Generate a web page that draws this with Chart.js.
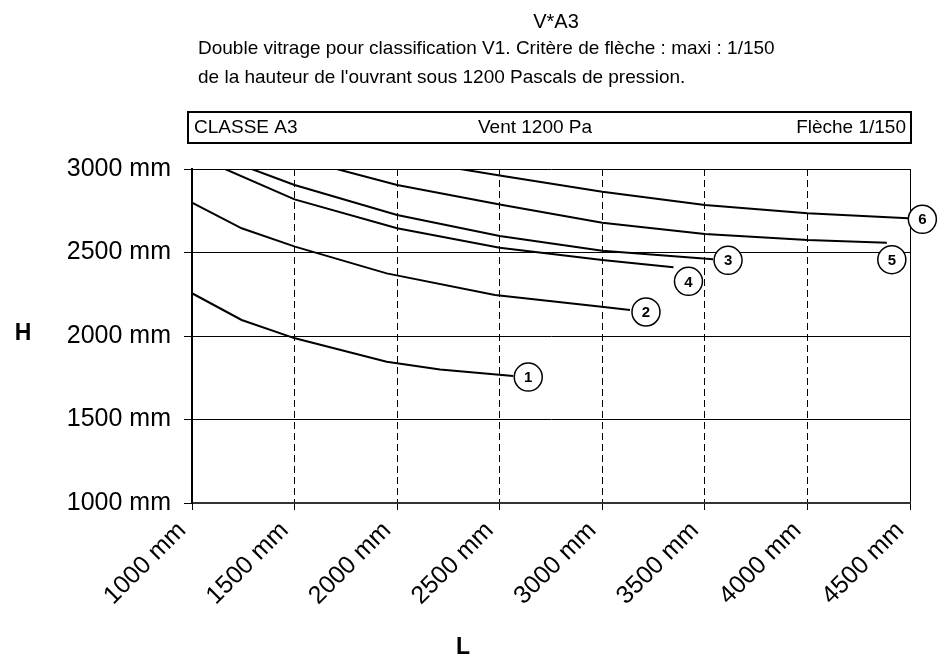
<!DOCTYPE html>
<html>
<head>
<meta charset="utf-8">
<script src="https://cdn.jsdelivr.net/npm/chart.js@4.4.0/dist/chart.umd.min.js"></script>
<style>
  body { margin: 0; background: #fff; }
  #wrap { width: 946px; height: 664px; position: relative; }
</style>
</head>
<body>
<div id="wrap"><canvas id="lineChart"></canvas></div>
<script>
// curves (L = width in mm, H = height in mm)
const L1 = [1000, 1242, 1502, 1949, 2209, 2566];
const H1 = [2256, 2096, 1986, 1846, 1800, 1760];
const L2 = [1000, 1242, 1502, 1949, 2477, 2997, 3135];
const H2 = [2798, 2645, 2535, 2375, 2245, 2175, 2156];
const L3 = [1291, 1500, 2000, 2500, 3000, 3540];
const H3 = [3000, 2904, 2725, 2599, 2511, 2459];
const L4 = [1161, 1500, 2000, 2500, 3000, 3347];
const H4 = [3000, 2818, 2645, 2528, 2455, 2411];
const L5 = [1705, 2000, 2500, 3000, 3500, 4000, 4387];
const H5 = [3000, 2904, 2788, 2678, 2611, 2575, 2559];
const L6 = [2307, 2500, 3000, 3500, 4000, 4492];
const H6 = [3000, 2961, 2864, 2784, 2735, 2705];
const curveNames = ['1', '2', '3', '4', '5', '6'];

const xTicks = [1000, 1500, 2000, 2500, 3000, 3500, 4000, 4500];
const yTicks = [1000, 1500, 2000, 2500, 3000];

const title = 'V*A3';
const subtitle = ["Double vitrage pour classification V1. Critère de flèche : maxi : 1/150",
                  "de la hauteur de l'ouvrant sous 1200 Pascals de pression."];
const boxTexts = ['CLASSE A3', 'Vent 1200 Pa', 'Flèche 1/150'];

// where each circled number sits relative to the end of its curve (px)
const labelOffsets = [[15, 1], [16, 2], [15, 1], [15, 14], [5, 17], [14, 1]];

const FONT = "'Liberation Sans', Arial, sans-serif";

const allL = [L1, L2, L3, L4, L5, L6];
const allH = [H1, H2, H3, H4, H5, H6];
const datasets = allL.map((xs, i) => ({
    label: curveNames[i],
    data: xs.map((x, j) => ({x: x, y: allH[i][j]})),
    borderColor: '#000',
    borderWidth: 2,
    pointRadius: 0,
    tension: 0,
    fill: false
}));

// header, axis letters and the circled curve numbers
const decorations = {
    id: 'decorations',
    afterDraw(chart) {
        const ctx = chart.ctx;
        ctx.save();
        ctx.fillStyle = '#000';
        ctx.textBaseline = 'middle';

        ctx.font = '20px ' + FONT;
        ctx.textAlign = 'center';
        ctx.fillText(title, 556, 22);

        ctx.font = '19px ' + FONT;
        ctx.textAlign = 'left';
        ctx.fillText(subtitle[0], 198, 49);
        ctx.fillText(subtitle[1], 198, 78);

        ctx.lineWidth = 2;
        ctx.strokeStyle = '#000';
        ctx.strokeRect(188, 112, 723, 31);
        ctx.font = '19px ' + FONT;
        ctx.textAlign = 'left';
        ctx.fillText(boxTexts[0], 194, 128);
        ctx.textAlign = 'center';
        ctx.fillText(boxTexts[1], 535, 128);
        ctx.textAlign = 'right';
        ctx.fillText(boxTexts[2], 906, 128);

        ctx.font = 'bold 23px ' + FONT;
        ctx.textAlign = 'center';
        ctx.fillText('H', 23, 334);
        ctx.fillText('L', 463, 648);

        const xs = chart.scales.x, ys = chart.scales.y;
        chart.data.datasets.forEach((ds, i) => {
            const last = ds.data[ds.data.length - 1];
            const cx = xs.getPixelForValue(last.x) + labelOffsets[i][0];
            const cy = ys.getPixelForValue(last.y) + labelOffsets[i][1];
            ctx.beginPath();
            ctx.arc(cx, cy, 14, 0, Math.PI * 2);
            ctx.fillStyle = '#fff';
            ctx.fill();
            ctx.lineWidth = 1.5;
            ctx.strokeStyle = '#000';
            ctx.stroke();
            ctx.fillStyle = '#000';
            ctx.font = 'bold 15px ' + FONT;
            ctx.textAlign = 'center';
            ctx.fillText(ds.label, cx, cy + 1);
        });
        ctx.restore();
    }
};

const ctx = document.getElementById('lineChart').getContext('2d');
const lineChart = new Chart(ctx, {
    type: 'line',
    data: { datasets: datasets },
    options: {
        responsive: true,
        maintainAspectRatio: false,
        animation: false,
        layout: { padding: { top: 169, right: 36, bottom: 0, left: 0 } },
        plugins: { legend: { display: false }, tooltip: { enabled: false } },
        scales: {
            x: {
                type: 'linear',
                min: xTicks[0],
                max: xTicks[xTicks.length - 1],
                afterBuildTicks: s => { s.ticks = xTicks.map(v => ({value: v})); },
                afterFit: s => { s.height = 161; },
                ticks: {
                    callback: v => v + ' mm',
                    color: '#000',
                    font: { family: FONT, size: 25 },
                    minRotation: 45,
                    maxRotation: 45,
                    padding: 6,
                    labelOffset: -10,
                    autoSkip: false
                },
                grid: {
                    color: '#000',
                    lineWidth: 1,
                    tickLength: 7,
                    tickBorderDash: []
                },
                border: {
                    display: true,
                    color: '#333',
                    width: 2,
                    dash: c => (c.tick && c.tick.value !== xTicks[xTicks.length - 1]) ? [7, 4] : []
                }
            },
            y: {
                type: 'linear',
                min: yTicks[0],
                max: yTicks[yTicks.length - 1],
                afterBuildTicks: s => { s.ticks = yTicks.map(v => ({value: v})); },
                afterFit: s => { s.width = 192; },
                ticks: {
                    callback: v => v + ' mm',
                    color: '#000',
                    font: { family: FONT, size: 25 },
                    padding: 13
                },
                grid: {
                    color: '#000',
                    lineWidth: 1,
                    tickLength: 8
                },
                border: { display: true, color: '#000', width: 2 }
            }
        }
    },
    plugins: [decorations]
});
</script>
</body>
</html>
